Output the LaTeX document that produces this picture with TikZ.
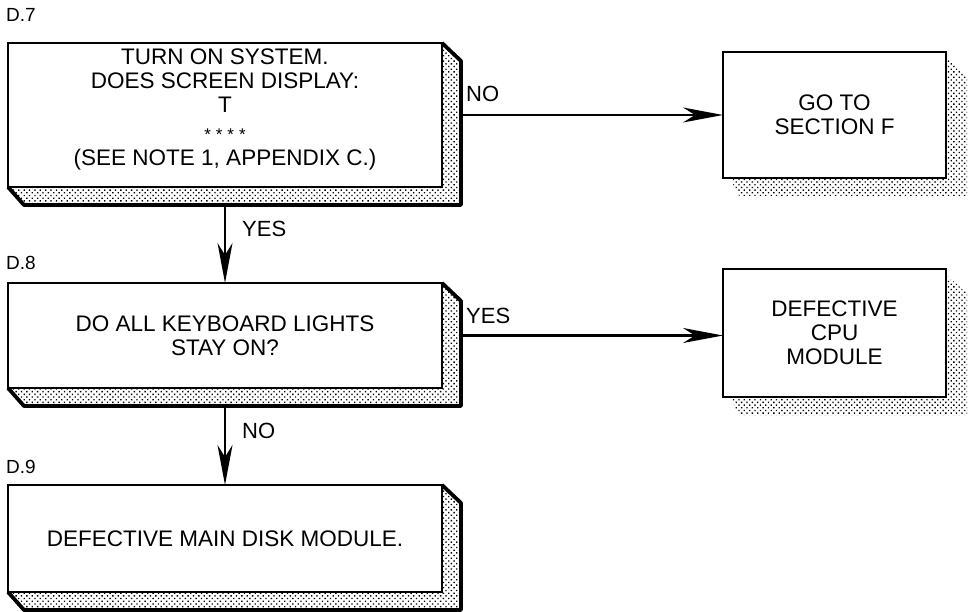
\documentclass[tikz,border=0pt]{standalone}
\usepackage{fontspec}
\setmainfont{Liberation Sans}
\usetikzlibrary{calc,arrows.meta,patterns.meta}

% stippled side and bottom faces of a raised box, with their outer outline
\newcommand{\slabfaces}[1]{%
  \fill[face] (#1.north east) -- ++(19,18) -- ($(#1.south east)+(19,18)$)
    -- ($(#1.south west)+(16,18)$) -- (#1.south west) -- (#1.south east) -- cycle;
  \draw[slabedge] (#1.north east) -- ++(19,18) -- ($(#1.south east)+(19,18)$)
    -- ($(#1.south west)+(16,18)$) -- (#1.south west);
}
% stippled drop shadow of a flat result box
\newcommand{\dropshadow}[1]{%
  \fill[face] ($(#1.north east)+(0,6)$) -- ++(21,18) -- ($(#1.south east)+(21,18)$)
    -- ($(#1.south west)+(16,18)$) -- ($(#1.south west)+(7,0)$) -- (#1.south east) -- cycle;
}

\begin{document}
\begin{tikzpicture}[x=1pt,y=-1pt,
  front/.style={draw, line width=2pt, fill=white, inner sep=0pt, outer sep=0pt,
    align=center, font=\fontsize{22.5}{24}\selectfont},
  txt/.style={inner sep=0pt, anchor=base, font=\fontsize{22.5}{24}\selectfont},
  face/.style={pattern={Dots[distance=3.8pt,radius=0.95pt,angle=45]}, pattern color=black},
  slabedge/.style={line width=3.8pt, line join=round},
  conn/.style={line width=2.2pt, -{Stealth[length=40pt,width=15pt,inset=12pt]}},
  lbl/.style={font=\fontsize{22}{24}\selectfont, inner sep=0pt, anchor=west},
  tag/.style={font=\fontsize{19}{22}\selectfont, inner sep=0pt, anchor=west}]

\useasboundingbox (0,0) rectangle (968,612);

% decision and action boxes
\node[front, minimum width=434pt, minimum height=144pt] (d7) at (225,115) {};
\node[txt] (d7a) at (225,65) {TURN ON SYSTEM.};
\node[txt] (d7b) at (225,89) {DOES SCREEN DISPLAY:};
\node[txt] (d7c) at (225,113) {T};
\node[txt, font=\fontsize{17}{20}\selectfont] (d7d) at (225,141)
  {*\hspace{5pt}*\hspace{5pt}*\hspace{5pt}*};
\node[txt] (d7e) at (225,166) {(SEE NOTE 1, APPENDIX C.)};
\node[front, minimum width=434pt, minimum height=105pt] (d8) at (225,335.5)
  {DO ALL KEYBOARD LIGHTS\\STAY ON?};
\node[front, minimum width=434pt, minimum height=107pt] (d9) at (225,538.5)
  {DEFECTIVE MAIN DISK MODULE.};
\slabfaces{d7}
\slabfaces{d8}
\slabfaces{d9}

% result boxes
\node[front, minimum width=223pt, minimum height=126pt] (gof) at (834.5,115)
  {GO TO\\SECTION F};
\node[front, minimum width=223pt, minimum height=128pt] (cpu) at (834.5,333)
  {DEFECTIVE\\CPU\\MODULE};
\dropshadow{gof}
\dropshadow{cpu}

% step tags
\node[tag] (t7) at (6,15) {D.7};
\node[tag] (t8) at (6,263) {D.8};
\node[tag] (t9) at (6,467) {D.9};

% connectors
\coordinate (d7r) at ($(d7.east)+(19,0)$);
\coordinate (d7s) at ($(d7.south)+(0,18)$);
\coordinate (d8r) at ($(d8.east)+(19,0)$);
\coordinate (d8s) at ($(d8.south)+(0,18)$);
\draw[conn] (d7r) -- (gof.west);
\draw[conn] (d7s) -- (d8.north);
\draw[conn] (d8r) -- (cpu.west |- d8r);
\draw[conn] (d8s) -- (d9.north);

% connector labels
\node[lbl] (l1) at (466,94) {NO};
\node[lbl] (l2) at (242,229) {YES};
\node[lbl] (l3) at (466,316) {YES};
\node[lbl] (l4) at (242,431) {NO};
\end{tikzpicture}
\end{document}
